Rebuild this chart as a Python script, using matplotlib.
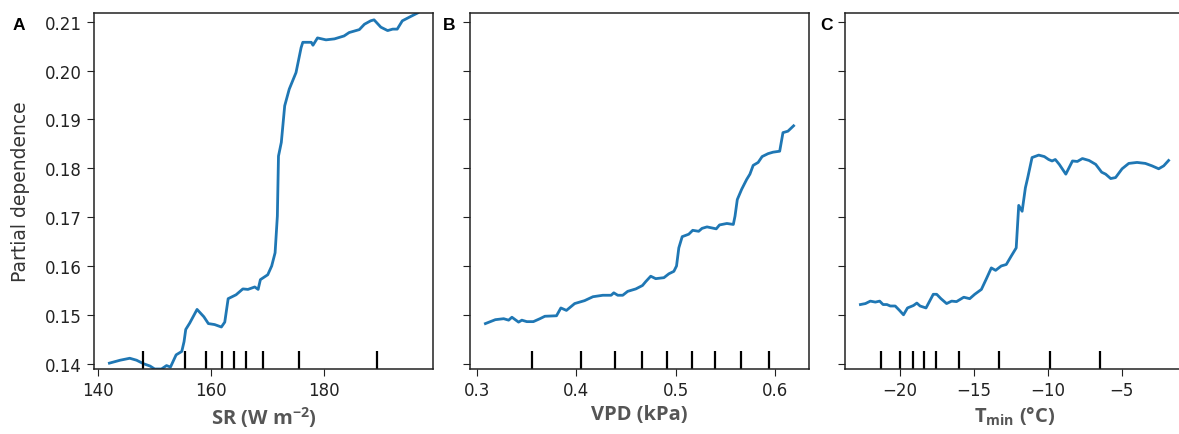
import numpy as np
import matplotlib
matplotlib.use("Agg")
import matplotlib.pyplot as plt

plt.rcParams['mathtext.fontset'] = 'custom'
plt.rcParams['mathtext.rm'] = 'Open Sans'
plt.rcParams['mathtext.bf'] = 'Open Sans:bold'
plt.rcParams['mathtext.default'] = 'bf'

# ---- datos ----
sr_x = [142.1, 144.0, 145.7, 146.9, 148.1, 149.3, 150.1, 151.3, 152.2, 152.9,
        153.9, 154.9, 155.3, 155.6, 156.3, 157.6, 158.8, 159.6, 160.7, 161.9,
        162.5, 163.1, 164.5, 165.7, 166.6, 167.8, 168.4, 168.8, 170.1, 170.8,
        171.4, 171.8, 172.0, 172.5, 173.1, 173.9, 175.1, 176.0, 176.3, 177.8,
        178.1, 178.9, 180.4, 181.9, 183.6, 184.5, 185.1, 186.3, 187.2, 188.3,
        188.9, 190.1, 191.3, 192.2, 193.0, 193.9, 195.4, 196.6]
sr_pd = [0.1401, 0.1407, 0.1411, 0.1407, 0.1400, 0.1395, 0.1389, 0.1389, 0.1396, 0.1393,
         0.1418, 0.1425, 0.1445, 0.1470, 0.1483, 0.1511, 0.1496, 0.1482, 0.1480, 0.1475,
         0.1485, 0.1533, 0.1541, 0.1553, 0.1552, 0.1557, 0.1552, 0.1572, 0.1582, 0.1600,
         0.1627, 0.1702, 0.1825, 0.1853, 0.1928, 0.1962, 0.1996, 0.2047, 0.2058, 0.2058,
         0.2052, 0.2067, 0.2063, 0.2065, 0.2071, 0.2078, 0.2080, 0.2084, 0.2095, 0.2102,
         0.2104, 0.2089, 0.2082, 0.2085, 0.2085, 0.2102, 0.2111, 0.2118]
sr_deciles = [147.98, 155.5, 159.26, 161.96, 164.07, 166.3, 169.18, 175.7, 189.4]

vpd_x = [0.3083, 0.3183, 0.3267, 0.3317, 0.3350, 0.3417, 0.3450, 0.3500, 0.3566, 0.3632,
         0.3682, 0.3799, 0.3843, 0.3899, 0.3982, 0.4082, 0.4166, 0.4266, 0.4349, 0.4376,
         0.4416, 0.4466, 0.4516, 0.4598, 0.4665, 0.4698, 0.4748, 0.4798, 0.4881, 0.4931,
         0.4981, 0.5008, 0.5031, 0.5065, 0.5131, 0.5171, 0.5231, 0.5265, 0.5315, 0.5408,
         0.5441, 0.5515, 0.5580, 0.5597, 0.5620, 0.5664, 0.5714, 0.5747, 0.5780, 0.5830,
         0.5870, 0.5930, 0.5980, 0.6047, 0.6080, 0.6130, 0.6187]
vpd_pd = [0.1482, 0.1490, 0.1492, 0.1489, 0.1495, 0.1485, 0.1489, 0.1486, 0.1486, 0.1492,
          0.1497, 0.1498, 0.1514, 0.1509, 0.1523, 0.1529, 0.1537, 0.1540, 0.1540, 0.1545,
          0.1540, 0.1540, 0.1548, 0.1553, 0.1560, 0.1568, 0.1579, 0.1574, 0.1576, 0.1584,
          0.1589, 0.1600, 0.1637, 0.1660, 0.1665, 0.1673, 0.1671, 0.1677, 0.1680, 0.1676,
          0.1684, 0.1687, 0.1685, 0.1702, 0.1736, 0.1757, 0.1777, 0.1788, 0.1806, 0.1812,
          0.1824, 0.1830, 0.1833, 0.1835, 0.1873, 0.1876, 0.1887]
vpd_deciles = [0.355, 0.4046, 0.4386, 0.4658, 0.4915, 0.5165, 0.5395, 0.5657, 0.5937]

tmin_x = [-22.64, -22.30, -21.97, -21.63, -21.34, -21.11, -20.85, -20.62, -20.29, -20.00,
          -19.73, -19.46, -19.06, -18.83, -18.61, -18.21, -17.72, -17.49, -17.20, -16.82,
          -16.48, -16.15, -15.66, -15.26, -14.92, -14.47, -14.13, -13.80, -13.51, -13.13,
          -12.79, -12.46, -12.12, -11.95, -11.72, -11.50, -11.34, -11.05, -10.60, -10.22,
          -9.93, -9.70, -9.48, -9.21, -8.77, -8.32, -7.99, -7.65, -7.20, -6.75,
          -6.35, -6.08, -5.74, -5.41, -4.97, -4.52, -3.96, -3.40, -2.95, -2.50,
          -2.16, -1.83]
tmin_pd = [0.1521, 0.1523, 0.1528, 0.1526, 0.1528, 0.1521, 0.1521, 0.1518, 0.1518, 0.1509,
           0.1500, 0.1514, 0.1519, 0.1524, 0.1518, 0.1514, 0.1542, 0.1542, 0.1533, 0.1523,
           0.1528, 0.1527, 0.1536, 0.1533, 0.1542, 0.1552, 0.1574, 0.1596, 0.1591, 0.1600,
           0.1603, 0.1620, 0.1637, 0.1724, 0.1712, 0.1760, 0.1781, 0.1822, 0.1827, 0.1824,
           0.1818, 0.1815, 0.1818, 0.1808, 0.1788, 0.1815, 0.1814, 0.1820, 0.1816, 0.1808,
           0.1792, 0.1788, 0.1779, 0.1781, 0.1799, 0.1810, 0.1812, 0.1810, 0.1805, 0.1799,
           0.1805, 0.1816]
tmin_deciles = [-21.23, -19.95, -19.1, -18.34, -17.54, -15.97, -13.31, -9.84, -6.44]

etiquetas = ['A', 'B', 'C']
xlabels = [r'SR (W m$^{-2}$)', 'VPD (kPa)', r'T$_{min}$ (°C)']
yticks = [0.14, 0.15, 0.16, 0.17, 0.18, 0.19, 0.20, 0.21]
xticks = [[140, 160, 180], [0.3, 0.4, 0.5, 0.6], [-20, -15, -10, -5]]

series = [(sr_x, sr_pd, sr_deciles), (vpd_x, vpd_pd, vpd_deciles),
          (tmin_x, tmin_pd, tmin_deciles)]

# limites y comunes
todos = np.concatenate([sr_pd, vpd_pd, tmin_pd])
ymin, ymax = todos.min(), todos.max()

fig = plt.figure(figsize=(11.79, 4.35), dpi=100)
lefts = [94 / 1179, 470 / 1179, 845 / 1179]
ancho = 339 / 1179
abajo = 1 - 370 / 435
alto = (370 - 14) / 435
label_x = [13 / 1179, 443 / 1179, 820 / 1179]

for i, (xs, ys, dec) in enumerate(series):
    ax = fig.add_axes([lefts[i], abajo, ancho, alto])
    ax.plot(xs, ys, color='#1f77b4', lw=2.0)
    ax.set_ylim(ymin, ymax)
    trans = ax.get_xaxis_transform()
    ax.vlines(dec, 0, 0.05, transform=trans, color='black', lw=1.6)
    ax.set_yticks(yticks)
    ax.set_xticks(xticks[i])
    ax.tick_params(labelsize=12, colors='#222222', length=5)
    if i == 0:
        ax.set_yticklabels([f'{v:.2f}' for v in yticks])
        ax.set_ylabel('Partial dependence', fontsize=13.5, color='#333333')
        ax.yaxis.set_label_coords(-0.19, 0.5)
    else:
        ax.set_yticklabels([])
    ax.set_xlabel(xlabels[i], fontsize=14.5, family='Open Sans', fontweight='bold',
                  color='#555555', labelpad=4)
    for s in ax.spines.values():
        s.set_linewidth(1.1)
        s.set_color('#222222')
    fig.text(label_x[i], 1 - 26 / 435, etiquetas[i], fontsize=12.5, fontweight='bold',
             family='Liberation Sans', va='center', ha='left')

fig.savefig('out.png', dpi=100)
